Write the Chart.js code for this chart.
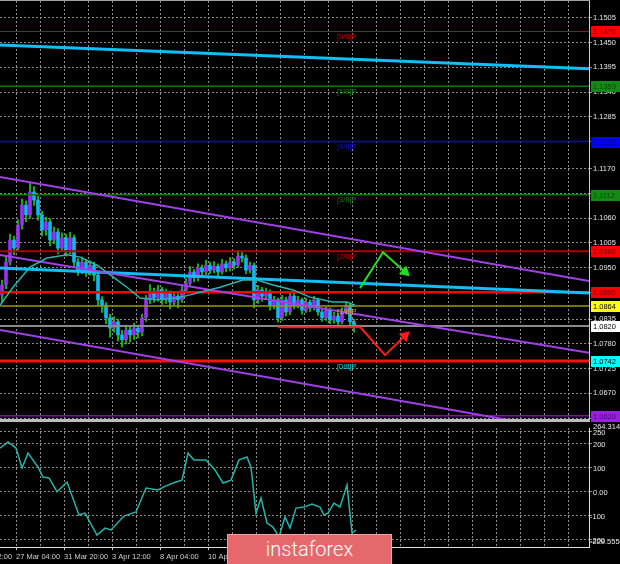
<!DOCTYPE html>
<html>
<head>
<meta charset="UTF-8">
<title>EURUSD H4</title>
<style type="text/css">
body { margin: 0; background: #000; }
#wrap { position: relative; width: 620px; height: 564px; background: #000; overflow: hidden; }
#priceBox { position: absolute; left: 0; top: 0; }
#cciBox { position: absolute; left: 0; top: 422px; }
#logo {
	position: absolute; left: 227px; top: 534px; width: 163px; height: 29px;
	background: #e5696c; border: 1px solid #f0a0a2; border-bottom: none;
	color: #fff; font: 300 20px Roboto, "Open Sans", sans-serif;
	text-align: center; line-height: 28px;
}
</style>
<script src="https://cdn.jsdelivr.net/npm/chart.js@4.4.1/dist/chart.umd.min.js"></script>
</head>
<body>
<div id="wrap">
	<canvas id="priceBox" width="620" height="422"></canvas>
	<canvas id="cciBox" width="620" height="142"></canvas>
	<div id="logo">instaforex</div>
</div>
<script type="text/javascript">
// velas (una por posicion)
var opens  = [1.0889,1.0911,1.0962,1.1011,1.0993,1.1044,1.1089,1.1067,1.1118,1.1100,
              1.1067,1.1033,1.1051,1.1011,1.1029,1.0993,1.1016,1.0989,1.1016,1.0962,
              1.0944,1.0962,1.0940,1.0955,1.0933,1.0878,1.0866,1.0838,1.0815,1.0829,
              1.0800,1.0789,1.0811,1.0800,1.0815,1.0806,1.0838,1.0878,1.0895,1.0882,
              1.0900,1.0878,1.0893,1.0873,1.0886,1.0878,1.0900,1.0915,1.0940,1.0927,
              1.0949,1.0940,1.0955,1.0944,1.0953,1.0940,1.0958,1.0949,1.0962,1.0955,
              1.0975,1.0971,1.0944,1.0955,1.0878,1.0900,1.0886,1.0895,1.0866,1.0878,
              1.0838,1.0878,1.0851,1.0886,1.0866,1.0878,1.0855,1.0873,1.0860,1.0878,
              1.0851,1.0838,1.0855,1.0833,1.0842,1.0829,1.0851,1.0866,1.0829];
var highs  = [1.0922,1.0975,1.1024,1.1020,1.1056,1.1102,1.1098,1.1138,1.1130,1.1108,
              1.1075,1.1062,1.1058,1.1040,1.1036,1.1027,1.1024,1.1028,1.1022,1.0970,
              1.0973,1.0968,1.0965,1.0962,1.0940,1.0885,1.0872,1.0846,1.0840,1.0835,
              1.0810,1.0822,1.0818,1.0826,1.0822,1.0846,1.0888,1.0912,1.0904,1.0910,
              1.0906,1.0902,1.0898,1.0895,1.0892,1.0908,1.0925,1.0952,1.0946,1.0958,
              1.0955,1.0966,1.0962,1.0963,1.0958,1.0968,1.0965,1.0972,1.0970,1.0988,
              1.0985,1.0978,1.0962,1.0960,1.0910,1.0906,1.0904,1.0900,1.0886,1.0882,
              1.0888,1.0884,1.0895,1.0892,1.0886,1.0882,1.0882,1.0878,1.0886,1.0882,
              1.0856,1.0862,1.0860,1.0850,1.0848,1.0860,1.0873,1.0870,1.0835];
var lows   = [1.0872,1.0903,1.0955,1.0978,1.0985,1.1035,1.1052,1.1060,1.1088,1.1055,
              1.1020,1.1022,1.0998,1.1003,1.0980,1.0985,1.0975,1.0980,1.0950,1.0932,
              1.0936,1.0930,1.0933,1.0920,1.0866,1.0850,1.0825,1.0795,1.0806,1.0786,
              1.0773,1.0780,1.0784,1.0790,1.0793,1.0798,1.0830,1.0870,1.0872,1.0875,
              1.0868,1.0870,1.0858,1.0866,1.0860,1.0872,1.0894,1.0910,1.0918,1.0920,
              1.0932,1.0934,1.0936,1.0938,1.0930,1.0935,1.0940,1.0942,1.0946,1.0950,
              1.0962,1.0936,1.0938,1.0860,1.0870,1.0875,1.0880,1.0855,1.0858,1.0828,
              1.0832,1.0842,1.0845,1.0858,1.0860,1.0846,1.0850,1.0852,1.0855,1.0844,
              1.0830,1.0832,1.0825,1.0826,1.0822,1.0825,1.0846,1.0820,1.0806];
var closes = [1.0911,1.0962,1.1011,1.0993,1.1044,1.1089,1.1067,1.1118,1.1100,1.1067,
              1.1033,1.1051,1.1011,1.1029,1.0993,1.1016,1.0989,1.1016,1.0962,1.0944,
              1.0962,1.0940,1.0955,1.0933,1.0878,1.0866,1.0838,1.0815,1.0829,1.0800,
              1.0789,1.0811,1.0800,1.0815,1.0806,1.0838,1.0878,1.0895,1.0882,1.0900,
              1.0878,1.0893,1.0873,1.0886,1.0878,1.0900,1.0915,1.0940,1.0927,1.0949,
              1.0940,1.0955,1.0944,1.0953,1.0940,1.0958,1.0949,1.0962,1.0955,1.0975,
              1.0971,1.0944,1.0955,1.0878,1.0900,1.0886,1.0895,1.0866,1.0878,1.0838,
              1.0878,1.0851,1.0886,1.0866,1.0878,1.0855,1.0873,1.0860,1.0878,1.0851,
              1.0838,1.0855,1.0833,1.0842,1.0829,1.0851,1.0866,1.0829,1.0817];

// media movil
var maIdx  = [-0.5, 2.75, 7, 11.25, 16.25, 19.5, 23.75, 27.75, 31.25, 34.5, 38.75, 43.75,
              47, 49.5, 54.5, 60.25, 63.75, 67.75, 72.75, 77, 82.75, 86.25, 88.25];
var maVals = [1.0866, 1.0906, 1.0951, 1.0971, 1.0978, 1.0973, 1.0955, 1.0929, 1.0906, 1.0882,
              1.0878, 1.0882, 1.0889, 1.0895, 1.0906, 1.0922, 1.0922, 1.0911, 1.0900, 1.0884,
              1.0873, 1.0873, 1.0866];

// CCI
var cciIdx  = [-0.5, 1.5, 3.5, 5, 6.5, 9, 10.25, 11.75, 13.75, 16.25, 19.25, 20.75, 23.75, 25.75,
               27.25, 30.5, 33.5, 36, 39, 41, 43.5, 45, 46.5, 48, 51, 53.25, 55.25, 57.25, 59.25,
               61.25, 62.25, 63.5, 64.75, 66.25, 67.75, 69.25, 70.75, 72, 73.5, 75.5, 77.5, 79.5,
               80.5, 81.5, 83, 84.5, 86.25, 87.5, 88.5];
var cciVals = [181, 206, 181, 98, 160, 102, 61, 57, 0, 40, -97, -89, -180, -151,
               -159, -101, -84, 15, 7, 24, 40, 48, 160, 132, 132, 90, 36, 48, 132,
               144, 102, -89, -26, -130, -147, -188, -105, -151, -68, -64, -51, -64,
               -97, -89, -47, -64, 28, -171, -159];
var cciTicks = [250, 200, 100, 0, -100, -200];
var cciMax = 264.3141, cciMin = -229.5556;

// niveles horizontales (Murrey + lineas propias)
var levelValues = [1.1475, 1.1353, 1.1230, 1.1112, 1.0986, 1.0895, 1.0864, 1.0820, 1.0742, 1.0620];
var levelTags   = ['[6/8]P', '[5/8]P', '[4/8]P', '[3/8]P', '[2/8]P', '', '[1/8]P', '', '[0/8]P', ''];

// lineas de tendencia [indice, precio]
var channelTop = [[-0.5, 1.1151], [146.75, 1.0920]];
var channelMid = [[-0.5, 1.0978], [146.75, 1.0760]];
var channelLow = [[-0.5, 1.0811], [146.75, 1.0579]];
var blueTop    = [[-0.5, 1.1445], [146.75, 1.1392]];
var blueMid    = [[-0.5, 1.0949], [146.75, 1.0893]];
var rangeLine  = [[69, 1.0817], [89.5, 1.0817]];
var upArrow    = [[89.5, 1.0904], [95.25, 1.0984], [100.75, 1.0940]];
var downArrow  = [[89.5, 1.0818], [95.75, 1.0755], [100.75, 1.0798]];

var priceTicks = [1.1505, 1.1450, 1.1395, 1.1340, 1.1285, 1.1230, 1.1170, 1.1115, 1.1060,
                  1.1005, 1.0950, 1.0895, 1.0835, 1.0780, 1.0725, 1.0670, 1.0615];
var dateIdx    = [-8.5, 3.5, 15.5, 27.5, 39.5, 51.5];
var dateLabels = ['24 Mar 12:00', '27 Mar 04:00', '31 Mar 20:00', '3 Apr 12:00', '8 Apr 04:00', '10 Apr 20:00'];

var xMin = -0.5, xMax = 146.75;
var yTop = 1.15428, yBottom = 1.06106;

// estilos
var levelColors = ['#cc0000', '#0b780b', '#0000e0', '#0b780b', '#b00000', '#ff0000', '#9a9a00', '#8a8a8a', '#ff1010', '#8a00d0'];
var levelWidths = [1, 1.5, 1.5, 1.5, 2, 2.5, 1.5, 2, 3, 1.5];
var boxColors   = ['#ff0000', '#138a13', '#0000ff', '#138a13', '#ff0000', '#ff0000', '#ffff00', '#ffffff', '#00ffff', '#9a20e0'];
var boxText     = ['#7a0000', '#004a00', '#000080', '#004a00', '#7a0000', '#7a0000', '#000', '#000', '#000', '#4a0080'];
var tagColors   = ['#c00000', '#0b7a0b', '#1010e0', '#0b7a0b', '#c00000', '', '#c8b040', '', '#00d0d0', ''];
var upColor = '#9a30f0', downColor = '#10b8f0', wickColor = '#18d018';
var gridColor = '#8c8c8c';
var axisFont = '7.5px "Liberation Sans", Arial, sans-serif';
var tagIdx = 83.75;

function pts(arr) { return arr.map(function (p) { return {x: p[0], y: p[1]}; }); }

var datasets = [];
levelValues.forEach(function (v, i) {
	datasets.push({ type: 'line', data: [{x: xMin, y: v}, {x: xMax, y: v}], borderColor: levelColors[i],
		borderWidth: levelWidths[i], pointRadius: 0, order: 20 });
});
[[channelTop, '#a040e8', 2], [channelMid, '#a040e8', 2], [channelLow, '#a040e8', 2],
 [blueTop, '#10bff8', 3], [blueMid, '#10bff8', 3], [rangeLine, '#ff1a1a', 2]].forEach(function (t) {
	datasets.push({ type: 'line', data: pts(t[0]), borderColor: t[1], borderWidth: t[2], pointRadius: 0, order: 15 });
});
datasets.push({ type: 'line', data: maIdx.map(function (x, i) { return {x: x, y: maVals[i]}; }),
	borderColor: '#2ab5b0', borderWidth: 1.5, pointRadius: 0, order: 12 });
datasets.push({ type: 'line', data: pts(upArrow), borderColor: '#22dd22', borderWidth: 2,
	pointRadius: [0, 0, 4.5], pointStyle: 'triangle', pointRotation: [0, 0, 132],
	pointBackgroundColor: '#22dd22', pointBorderColor: '#22dd22', order: 5 });
datasets.push({ type: 'line', data: pts(downArrow), borderColor: '#ff1a1a', borderWidth: 2,
	pointRadius: [0, 0, 4.5], pointStyle: 'triangle', pointRotation: [0, 0, 46],
	pointBackgroundColor: '#ff1a1a', pointBorderColor: '#ff1a1a', order: 5 });
datasets.push({ type: 'bar', data: highs.map(function (h, i) { return {x: i, y: [lows[i], h]}; }),
	backgroundColor: wickColor, barThickness: 1, grouped: false, order: 40 });
datasets.push({ type: 'bar', data: opens.map(function (o, i) { return {x: i, y: [o, closes[i]]}; }),
	backgroundColor: opens.map(function (o, i) { return closes[i] >= o ? upColor : downColor; }),
	barThickness: 3, grouped: false, order: 35 });

function gridTicks(scale) {
	var t = [];
	for (var v = -2.5; v <= xMax; v += 6) t.push({value: v});
	scale.ticks = t;
}

var mainText = {
	id: 'mainText',
	afterDraw: function (chart) {
		var ctx = chart.ctx, a = chart.chartArea, ys = chart.scales.y, xs = chart.scales.x;
		ctx.save();
		ctx.fillStyle = '#a0a0a0';
		ctx.fillRect(0, 0, a.right + 1, 1);
		ctx.fillStyle = '#bdbdbd';
		ctx.fillRect(0, a.bottom - 1, a.right + 1, 3);
		ctx.font = axisFont;
		ctx.textAlign = 'left';
		ctx.textBaseline = 'middle';
		ctx.fillStyle = '#e6e6e6';
		priceTicks.forEach(function (v) { ctx.fillText(v.toFixed(4), a.right + 4, ys.getPixelForValue(v)); });
		ctx.textBaseline = 'top';
		levelValues.forEach(function (v, i) {
			if (!levelTags[i]) return;
			ctx.fillStyle = tagColors[i];
			ctx.fillText(levelTags[i], xs.getPixelForValue(tagIdx), ys.getPixelForValue(v) + 2);
		});
		ctx.textBaseline = 'middle';
		levelValues.forEach(function (v, i) {
			var py = Math.round(ys.getPixelForValue(v));
			ctx.fillStyle = boxColors[i];
			ctx.fillRect(a.right + 2, py - 5, 30, 11);
			ctx.fillStyle = boxText[i];
			ctx.fillText(v.toFixed(4), a.right + 4, py + 0.5);
		});
		ctx.restore();
	}
};

new Chart(document.getElementById('priceBox'), {
	type: 'bar',
	data: { datasets: datasets },
	options: {
		responsive: false, animation: false, devicePixelRatio: 1,
		layout: { autoPadding: false, padding: { top: 1, bottom: 2, left: 0, right: 0 } },
		plugins: { legend: { display: false }, tooltip: { enabled: false } },
		scales: {
			x: { type: 'linear', min: xMin, max: xMax, offset: false,
				afterBuildTicks: gridTicks, afterFit: function (s) { s.height = 0; },
				ticks: { display: false },
				grid: { color: gridColor, drawTicks: false, offset: false },
				border: { display: false, dash: [2, 2] } },
			y: { position: 'right', min: yBottom, max: yTop,
				afterBuildTicks: function (s) { s.ticks = priceTicks.map(function (v) { return {value: v}; }); },
				afterFit: function (s) { s.width = 31; },
				ticks: { display: false },
				grid: { color: gridColor, drawTicks: true, tickLength: 3 },
				border: { display: true, color: '#d0d0d0', width: 1, dash: [2, 2] } }
		}
	},
	plugins: [mainText]
});

var cciText = {
	id: 'cciText',
	afterDraw: function (chart) {
		var ctx = chart.ctx, a = chart.chartArea, ys = chart.scales.y, xs = chart.scales.x;
		ctx.save();
		ctx.font = axisFont;
		ctx.textAlign = 'left';
		ctx.textBaseline = 'middle';
		ctx.fillStyle = '#e6e6e6';
		ctx.fillText(cciMax.toFixed(4), a.right + 4, a.top - 1);
		cciTicks.forEach(function (v) {
			var txt = v === 0 ? '0.00' : String(v);
			ctx.fillText(txt, a.right + (v < 0 ? 1 : 4), ys.getPixelForValue(v) + 1);
		});
		ctx.fillText(cciMin.toFixed(4), a.right + 1, a.bottom - 5);
		ctx.fillStyle = '#d0d0d0';
		dateIdx.forEach(function (v, i) {
			var px = xs.getPixelForValue(v);
			ctx.fillRect(Math.round(px), a.bottom, 1, 3);
			ctx.fillText(dateLabels[i], px, a.bottom + 10);
		});
		ctx.restore();
	}
};

new Chart(document.getElementById('cciBox'), {
	type: 'line',
	data: { datasets: [{ data: cciIdx.map(function (x, i) { return {x: x, y: cciVals[i]}; }),
		borderColor: '#26b3a8', borderWidth: 1.5, pointRadius: 0, tension: 0 }] },
	options: {
		responsive: false, animation: false, devicePixelRatio: 1,
		layout: { autoPadding: false, padding: { top: 6, bottom: 17, left: 0, right: 0 } },
		plugins: { legend: { display: false }, tooltip: { enabled: false } },
		scales: {
			x: { type: 'linear', min: xMin, max: xMax,
				afterBuildTicks: gridTicks, afterFit: function (s) { s.height = 0; },
				ticks: { display: false },
				grid: { color: gridColor, drawTicks: false },
				border: { display: true, color: '#e0e0e0', width: 1, dash: [2, 2] } },
			y: { position: 'right', min: cciMin, max: cciMax,
				afterBuildTicks: function (s) { s.ticks = cciTicks.map(function (v) { return {value: v}; }); },
				afterFit: function (s) { s.width = 31; },
				ticks: { display: false },
				grid: { color: gridColor, drawTicks: true, tickLength: 3 },
				border: { display: true, color: '#e0e0e0', width: 1, dash: [2, 2] } }
		}
	},
	plugins: [cciText]
});
</script>
</body>
</html>
